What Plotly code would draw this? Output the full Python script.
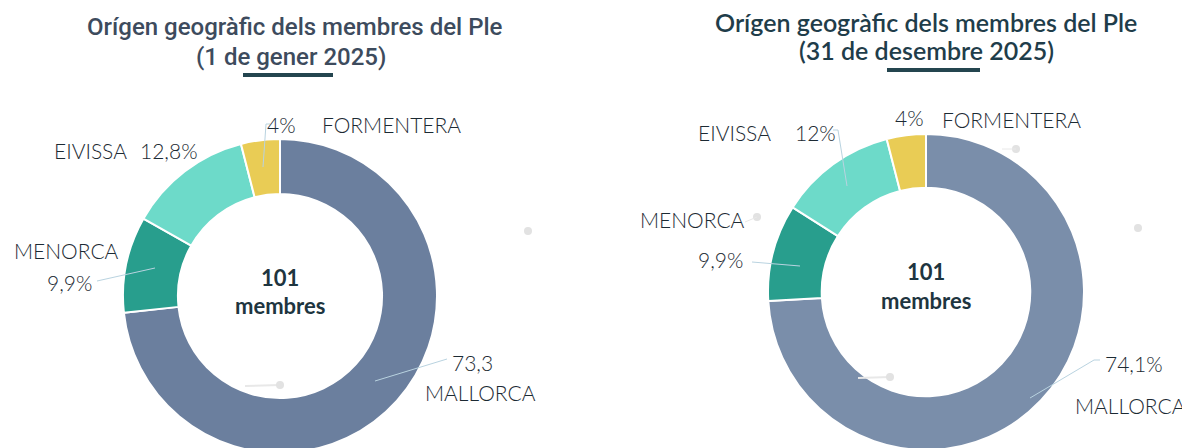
import plotly.graph_objects as go

# window is 1190x448; the page body has an 8px margin
OFF = 8
W, H = 1182, 460

islands = ["MALLORCA", "MENORCA", "EIVISSA", "FORMENTERA"]
values_jan = [73.3, 9.9, 12.8, 4.0]
values_dec = [74.1, 9.9, 12.0, 4.0]
labels_jan = ["73,3", "9,9%", "12,8%", "4%"]
labels_dec = ["74,1%", "9,9%", "12%", "4%"]
total_members = 101
title_main = "Orígen geogràfic dels membres del Ple"
title_jan = "(1 de gener 2025)"
title_dec = "(31 de desembre 2025)"

colors_jan = ["#6b7f9e", "#289e8d", "#6ddac9", "#e9cc55"]
colors_dec = ["#7a8eaa", "#289e8d", "#6ddac9", "#e9cc55"]


def px(x):
    return (x - OFF) / W


def py(y):
    return 1 - (y - OFF) / H


def dom(cx, cy, r):
    return dict(x=[px(cx - r), px(cx + r)], y=[py(cy + r), py(cy - r)])


fig = go.Figure()
fig.add_trace(go.Pie(
    labels=islands, values=values_jan, hole=0.65, sort=False,
    direction="clockwise", rotation=0, textinfo="none",
    marker=dict(colors=colors_jan, line=dict(color="white", width=2)),
    domain=dom(280, 296, 157), showlegend=False, hoverinfo="label+percent"))
fig.add_trace(go.Pie(
    labels=islands, values=values_dec, hole=0.66, sort=False,
    direction="clockwise", rotation=0, textinfo="none",
    marker=dict(colors=colors_dec, line=dict(color="white", width=2)),
    domain=dom(926, 292, 158), showlegend=False, hoverinfo="label+percent"))

ann = []
lab_font = dict(family="Lato", size=21, color="#1c2a33", weight=300)


def txt(x, y, s, anchor="left", font=lab_font):
    ann.append(dict(x=px(x), y=py(y), xref="paper", yref="paper", text=s,
                    showarrow=False, xanchor=anchor, yanchor="middle", font=font))


# titles
tf_l = dict(family="Roboto", size=24, color="#3d4b5d", weight=500)
tf_r = dict(family="Lato", size=25, color="#1f3d4a", weight=600)
txt(295, 27, title_main, "center", tf_l)
txt(291, 57, title_jan, "center", tf_l)
txt(926, 22, title_main, "center", tf_r)
txt(926, 50, title_dec, "center", tf_r)

# left labels
txt(265, 125, labels_jan[3])
txt(320, 125, islands[3])
txt(52, 150, "EIVISSA")
txt(138, 150, labels_jan[2])
txt(12, 251, "MENORCA")
txt(45, 282, labels_jan[1])
txt(450, 362, labels_jan[0])
txt(423, 392, islands[0])

# right labels
txt(893, 118, labels_dec[3])
txt(940, 119, islands[3])
txt(696, 132, "EIVISSA")
txt(793, 132, labels_dec[2])
txt(638, 219, "MENORCA")
txt(696, 260, labels_dec[1])
txt(1103, 363, labels_dec[0])
txt(1073, 405, islands[0])

# center totals
cf = dict(family="Lato", size=22, color="#1e3540", weight=700)
txt(280, 277, str(total_members), "center", cf)
txt(280, 305, "membres", "center", cf)
txt(926, 271, str(total_members), "center", cf)
txt(926, 300, "membres", "center", cf)

shapes = []


def line(x0, y0, x1, y1, color="#b9d3e0", width=1):
    shapes.append(dict(type="line", xref="paper", yref="paper",
                       x0=px(x0), y0=py(y0), x1=px(x1), y1=py(y1),
                       line=dict(color=color, width=width)))


def dot(x, y, r=4, color="#e2e2e2"):
    shapes.append(dict(type="circle", xref="paper", yref="paper",
                       x0=px(x - r), x1=px(x + r), y0=py(y + r), y1=py(y - r),
                       fillcolor=color, line=dict(width=0)))


# title underlines
line(243, 75, 333, 75, "#24454f", 4)
line(887, 70, 980, 70, "#24454f", 4)

# leader lines left
line(270, 124, 266, 124)
line(266, 124, 263, 167)
line(97, 281, 155, 268)
line(447, 359, 375, 381)
# leader lines right
line(833, 130, 838, 130)
line(838, 130, 847, 186)
line(752, 262, 800, 266)
line(1100, 360, 1094, 360)
line(1094, 360, 1030, 398)

# faint dots
dot(528, 231)
line(245, 386, 280, 385, "#e8e8e8", 2)
dot(280, 385)
dot(1138, 228)
line(858, 378, 890, 377, "#e8e8e8", 2)
dot(890, 377)
dot(757, 217)
line(745, 222, 757, 217, "#e8e8e8", 1)
dot(1016, 149)
line(1002, 149, 1016, 149, "#e8e8e8", 1)

fig.update_layout(width=W, height=H, margin=dict(l=0, r=0, t=0, b=0),
                  paper_bgcolor="white", plot_bgcolor="white",
                  annotations=ann, shapes=shapes)
fig.write_html("out.html", post_script="document.body.style.overflow='hidden';")
